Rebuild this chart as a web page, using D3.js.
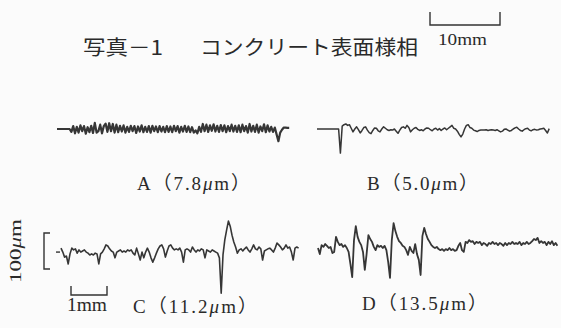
<!DOCTYPE html>
<html>
<head>
<meta charset="utf-8">
<script src="https://cdn.jsdelivr.net/npm/d3@7/dist/d3.min.js"></script>
<style>
  html, body { margin: 0; padding: 0; background: #fbfbfb; }
  svg { display: block; }
  text { fill: #2a2a2a; }
</style>
</head>
<body>
<script>
// Surface roughness profiles, heights in μm, sampled every 0.05 mm along the trace
const stepMm = 0.05;

const profileA = [
  0, 0, 0, 0, 0, 0, 0, 0,
  -8, 8, -12, 6, -10, 10, -6, 8, -13, 5, -9, 9, -11,
  17, -10,
  -6, 12, -12, 8,
  15, -8, 16, -6, 14, -10, 12,
  -9, 9, -7, 10, -10, 6, -8, 9, -6, 8, -11, 7, -7, 10, -9, 6, -8, 8, -10, 9, -6, 7, -9, 8, -7, 6, -9,
  8, -8, 7, -9, 9, -6, 8, -10, 6, -7, 9, -8, 7, -9, 5, -10, -4, -12, 6, -8,
  14, -6, 12, -8, 10, -5, 13, -7, 9, -8, 11, -6, 10, -9, 8, -6, 12, -7, 9, -8,
  10, -9, 12, -6, 8, -10, 14, -7, 9, -8, 12, -10, 7, -6, 13, -9, 10, -7,
  6, -8, 4,
  -15, -34, -10, -2, 4,
  4, 3, 3
];

const profileB = [
  0, 0, 0, 0, 0, 0, 0, 0, 0, 0, 0, 0, 0,
  -67,
  8, 12, 14, 10, 12, 2, -8, 0, 6, -2, -11, -4, 4, 6, -3, -10, -13, -4, 3, 2,
  -5, -8, 0, 6, 2, -2, -4, -2, -3, 0, -6, -12, -3, 4, 6, 2, 10, 4, -8, -2,
  2, 4, -1, -4, -2, -5, 0, 3, 2, -2, -5, 0, 2,
  -3, 1, -4, 0, 3, -2, 2, 6, 10, 2, 0, -6, -15, -22, -14, 0, 10, 12, 4, 2,
  -3, -5, -7, -4, -3, -3,
  -3, -2, -4, -3, -2, -3, -4, -2, -5, -8,
  -6, -1, 0, -3, -6, -4, 0, 3, 5, 0, -4, -6, -2, 1, 2, -3, -5, -2, -1, -3,
  -2, 0, 1, 2, -4, -11, 1
];

const profileC = [
  8, -3, -17, -14, -36, -8, 8, 3, 6, -6, 3, -3, 0, 3, -3, -6, -11, -8, -11, -6,
  -8, -36, -8, -3, 6, 17, 14, 6, 0, -3, -19, -3, 0, 3, -3, 0, -3, 3, 0, 3,
  -6, -11, 8, -8, -25, -3, -19, -3, 8, -3, -19, -31, -19, -6, 6, 14, 17, 6, -17, 0,
  14, 17, 8, 3, 6, 3, 8, -3, -31, 3, 6, 3, -3, 11, 3, -3, 3, 0, 6, 3,
  -19, 3, 0, -3, 3, 0, -3, -6, -19, -117, -11, 31, 58, 83, 69, 44, 25, 11, -6, 3,
  6, 0, 6, 11, 3, -3, 6, 17, 6, 3, 11, 6, -25, 0, 3, 6, 8, 3, -3, 8,
  22, 17, 11, 3, 8, 17, 8, 11, -3, -25, 8, 11, 8
];

const profileD = [
  0, -17, 8, 3, 11, 6, 0, 3, -14, -11, 31, 17, 8, 11, 3, 8, 0, -11, -44, -81,
  22, 61, 31, 17, 8, -11, -61, -17, 36, 25, 17, 3, -6, 8, 3, 6, 0, 6, -6, -39,
  -83, 22, 69, 47, 31, 19, 14, 6, 3, -6, -19, 3, -8, -14, 11, -17, -33, -75, 33, 56,
  39, 25, 17, 8, 3, 0, 3, -3, -6, -3, -8, -3, -6, 0, -6, -3, -8, -6, 6, 14,
  -6, -11, 17, 14, 22, 17, 19, 11, 17, 14, 17, 8, 14, 11, 6, 14, 11, 17, 11, 14,
  8, 14, 11, 6, 14, 8, 14, 11, 17, 11, 14, 11, 17, 8, 14, 11, 17, 11, 14, 19,
  25, 22, 28, 14, 19, 14, 17, 8, 17, 11, 19, 8, 14, 6
];

const profileLabels = [
  { name: "A", value: "7.8" },
  { name: "B", value: "5.0" },
  { name: "C", value: "11.2" },
  { name: "D", value: "13.5" }
];

const titleMain = "写真－1";
const titleSub = "コンクリート表面様相";
const photoScaleLabel = "10mm";
const lengthScaleLabel = "1mm";
const heightScaleUm = 100;
const lengthScaleMm = 1;
const photoScaleMm = 10;

// ---- layout ----
const W = 561, H = 328;
const pxPerMm = 36;
const pxPerUm = 0.36;

const panels = [
  { data: profileA, x0: 57,  base: 129, stroke: 2.2, label: { x: 137, y: 190, w: 113 } },
  { data: profileB, x0: 317, base: 129, stroke: 1.5, label: { x: 367, y: 190, w: 111 } },
  { data: profileC, x0: 61,  base: 251, stroke: 1.6, label: { x: 133, y: 313, w: 124 } },
  { data: profileD, x0: 318, base: 248, stroke: 1.8, label: { x: 362, y: 310, w: 125 } }
];

const svg = d3.select("body").append("svg")
  .attr("width", W).attr("height", H);

svg.append("rect").attr("width", W).attr("height", H).attr("fill", "#fbfbfb");

// title
svg.append("text")
  .attr("x", 83).attr("y", 55)
  .attr("font-family", "'Noto Sans CJK JP', sans-serif")
  .attr("font-size", 20)
  .attr("textLength", 80).attr("lengthAdjust", "spacingAndGlyphs")
  .text(titleMain);
svg.append("text")
  .attr("x", 200).attr("y", 55)
  .attr("font-family", "'Noto Sans CJK JP', sans-serif")
  .attr("font-size", 20)
  .attr("textLength", 218).attr("lengthAdjust", "spacingAndGlyphs")
  .text(titleSub);

// photo scale bar (10 mm)
const photoScale = d3.scaleLinear().domain([0, photoScaleMm]).range([430, 500]);
svg.append("path")
  .attr("d", d3.line()([[photoScale(0), 12], [photoScale(0), 25], [photoScale(photoScaleMm), 25], [photoScale(photoScaleMm), 12]]))
  .attr("fill", "none").attr("stroke", "#333").attr("stroke-width", 1.4);
svg.append("text")
  .attr("x", 438).attr("y", 45)
  .attr("font-family", "'Liberation Serif', serif")
  .attr("font-size", 17)
  .attr("textLength", 49).attr("lengthAdjust", "spacingAndGlyphs")
  .text(photoScaleLabel);

// profile traces with their labels
panels.forEach((p, k) => {
  const n = p.data.length;
  const x = d3.scaleLinear().domain([0, (n - 1) * stepMm]).range([p.x0, p.x0 + (n - 1) * stepMm * pxPerMm]);
  const y = d3.scaleLinear().domain([-100, 100]).range([p.base + 100 * pxPerUm, p.base - 100 * pxPerUm]);
  p.x = x; p.y = y;
  const line = d3.line().x((d, i) => x(i * stepMm)).y(d => y(d));
  svg.append("path")
    .datum(p.data)
    .attr("d", line)
    .attr("fill", "none")
    .attr("stroke", "#363636")
    .attr("stroke-width", p.stroke)
    .attr("stroke-linejoin", "round");

  const lab = profileLabels[k];
  const t = svg.append("text")
    .attr("x", p.label.x).attr("y", p.label.y)
    .attr("font-family", "'Liberation Serif', 'Noto Sans CJK JP', serif")
    .attr("font-size", 19)
    .attr("textLength", p.label.w).attr("lengthAdjust", "spacing");
  t.append("tspan").text(lab.name + "（" + lab.value);
  t.append("tspan").attr("font-style", "italic").text("μ");
  t.append("tspan").text("m）");
});

// height scale bracket (100 μm) beside profile C
const yC = panels[2].y;
svg.append("path")
  .attr("d", d3.line()([[50, yC(heightScaleUm / 2)], [44, yC(heightScaleUm / 2)], [44, yC(-heightScaleUm / 2)], [50, yC(-heightScaleUm / 2)]]))
  .attr("fill", "none").attr("stroke", "#333").attr("stroke-width", 1.4);
svg.append("path")
  .attr("d", d3.line()([[56, yC(-3)], [60, yC(-3)]]))
  .attr("fill", "none").attr("stroke", "#333").attr("stroke-width", 1.4);
svg.append("text")
  .attr("transform", `translate(21,${yC(0)}) rotate(-90)`)
  .attr("text-anchor", "middle")
  .attr("font-family", "'Liberation Serif', serif")
  .attr("font-size", 17)
  .attr("textLength", 64).attr("lengthAdjust", "spacingAndGlyphs")
  .html(`100<tspan font-style="italic">μ</tspan>m`);

// length scale bar (1 mm)
const lenScale = d3.scaleLinear().domain([0, lengthScaleMm]).range([71, 71 + lengthScaleMm * pxPerMm]);
svg.append("path")
  .attr("d", d3.line()([[lenScale(0), 286], [lenScale(0), 295], [lenScale(lengthScaleMm), 295], [lenScale(lengthScaleMm), 286]]))
  .attr("fill", "none").attr("stroke", "#333").attr("stroke-width", 1.4);
svg.append("text")
  .attr("x", 67).attr("y", 311)
  .attr("font-family", "'Liberation Serif', serif")
  .attr("font-size", 18)
  .attr("textLength", 40).attr("lengthAdjust", "spacingAndGlyphs")
  .text(lengthScaleLabel);
</script>
</body>
</html>
